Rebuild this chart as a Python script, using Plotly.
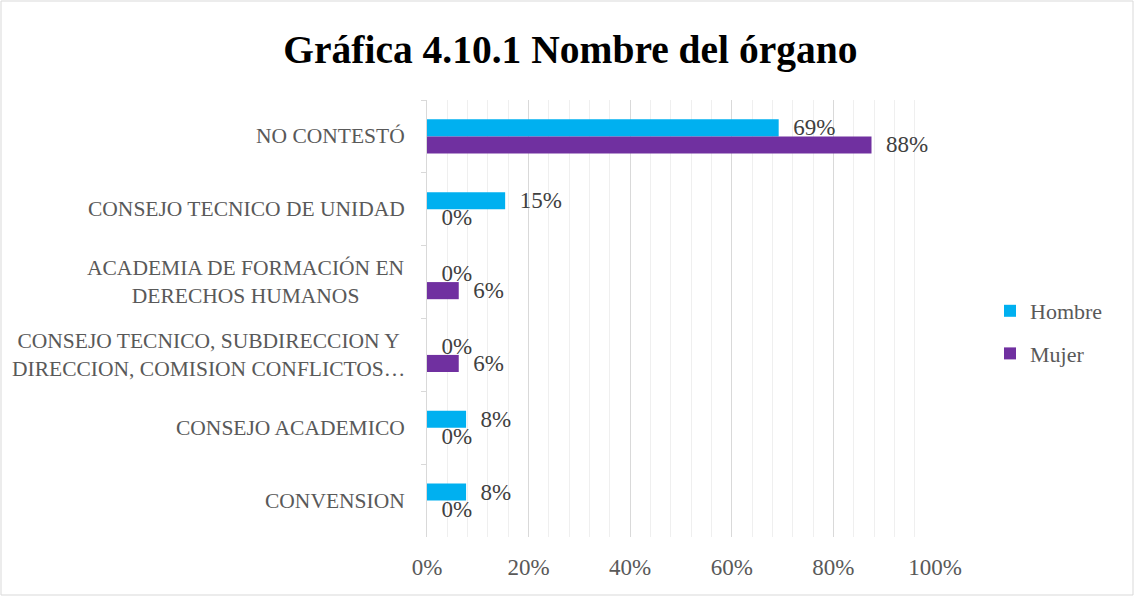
import plotly.graph_objects as go

categories = [
    "NO CONTESTÓ",
    "CONSEJO TECNICO DE UNIDAD",
    "ACADEMIA DE FORMACIÓN EN<br>DERECHOS HUMANOS",
    "CONSEJO TECNICO, SUBDIRECCION Y<br>DIRECCION, COMISION CONFLICTOS…",
    "CONSEJO ACADEMICO",
    "CONVENSION",
]
hombre = [9/13, 2/13, 0, 0, 1/13, 1/13]
mujer = [14/16, 0, 1/16, 1/16, 0, 0]
x_ticks = [0, 0.2, 0.4, 0.6, 0.8, 1.0]
x_ticklabels = ["0%", "20%", "40%", "60%", "80%", "100%"]

FONT = "Liberation Serif"
W, H = 1134, 596
L, R, T, B = 427, 199, 100, 59

fig = go.Figure()
for name, vals, color in [("Hombre", hombre, "#00B0F0"), ("Mujer", mujer, "#7030A0")]:
    fig.add_trace(go.Bar(
        y=categories, x=vals, name=name, orientation="h", legendgroup=name,
        marker=dict(color=color, line=dict(width=0)),
        text=["  {:.0%}".format(v) for v in vals],
        textposition="outside", cliponaxis=False, constraintext="none",
        textfont=dict(family=FONT, size=23, color="#404040"),
    ))

for c in categories:
    fig.add_annotation(
        x=0, xref="paper", y=c, yref="y", text=c, showarrow=False,
        xanchor="right", xshift=-20, align="center",
        font=dict(family=FONT, size=21.5, color="#595959"),
    )

pw, ph = W - L - R, H - T - B
fig.add_shape(type="rect", xref="paper", yref="paper",
              x0=-(L - 1) / pw, x1=1 + (R - 1) / pw,
              y0=-(B - 1) / ph, y1=1 + (T - 1) / ph,
              line=dict(color="#D9D9D9", width=1))

fig.update_layout(
    width=W, height=H,
    margin=dict(l=L, r=R, t=T, b=B, autoexpand=False),
    paper_bgcolor="white", plot_bgcolor="white",
    barmode="group", bargap=0.53, bargroupgap=0,
    title=dict(text="<b>Gráfica 4.10.1 Nombre del órgano</b>", x=0.503, xanchor="center",
               y=0.918, yanchor="middle", font=dict(family=FONT, size=39.5, color="black")),
    legend=dict(x=(990 - L) / pw, y=(H - B - 290) / ph, xanchor="left", yanchor="top",
                font=dict(family=FONT, size=22, color="#595959"),
                itemwidth=30, tracegroupgap=11, bgcolor="rgba(0,0,0,0)"),
    xaxis=dict(range=[0, 1], tickvals=x_ticks, ticktext=x_ticklabels,
               showgrid=True, gridcolor="#D9D9D9", gridwidth=1,
               minor=dict(dtick=0.04, showgrid=True, gridcolor="#EFEFEF", gridwidth=1),
               zeroline=False, showline=False, ticks="", ticklabelstandoff=14,
               tickfont=dict(family=FONT, size=23, color="#595959")),
    yaxis=dict(autorange="reversed", showticklabels=False, showline=True,
               linecolor="#D9D9D9", ticks="outside", tickson="boundaries",
               ticklen=5, tickcolor="#D9D9D9", showgrid=False, zeroline=False),
    showlegend=True,
)
fig.write_html("out.html", config={"displayModeBar": False},
               post_script="document.body.style.margin='0';")
